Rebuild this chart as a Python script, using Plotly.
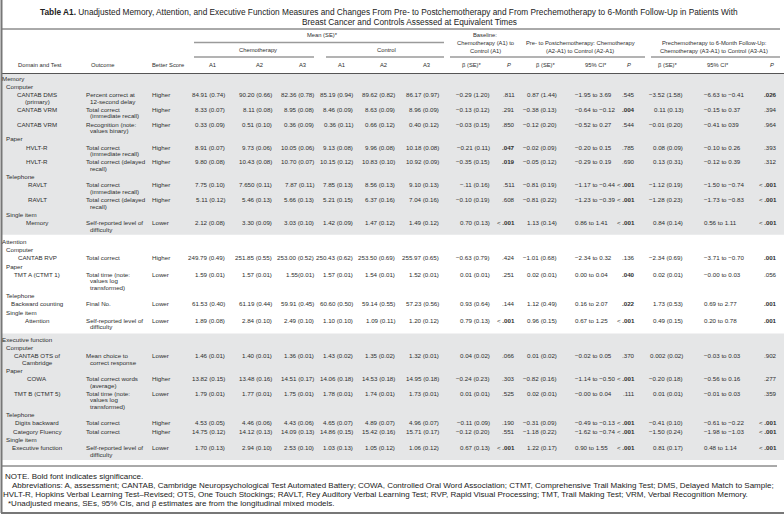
import plotly.graph_objects as go

W, H = 784, 523

# ---- table content -------------------------------------------------------
title_lines = [
    "<b>Table A1.</b> Unadjusted Memory, Attention, and Executive Function Measures and Changes From "
    "Pre- to Postchemotherapy and From Prechemotherapy to 6-Month Follow-Up in Patients With",
    "Breast Cancer and Controls Assessed at Equivalent Times",
]

domains = ["Memory", "Attention", "Executive function"]
row_domain = [0, 0, 0, 0, 0, 0, 0, 0, 1, 1, 1, 1, 2, 2, 2, 2, 2, 2]
row_mode = [
    "Computer", "Computer", "Computer", "Paper", "Paper", "Telephone", "Telephone", "Single item",
    "Computer", "Paper", "Telephone", "Single item",
    "Computer", "Paper", "Paper", "Telephone", "Telephone", "Single item",
]
tests = [
    "CANTAB DMS<br>(primary)", "CANTAB VRM", "CANTAB VRM", "HVLT-R", "HVLT-R", "RAVLT", "RAVLT", "Memory",
    "CANTAB RVP", "TMT A (CTMT 1)", "Backward counting", "Attention",
    "CANTAB OTS of<br>Cambridge", "COWA", "TMT B (CTMT 5)", "Digits backward", "Category Fluency",
    "Executive function",
]
outcomes = [
    "Percent correct at<br>12-second delay",
    "Total correct<br>(immediate recall)",
    "Recognition (note:<br>values binary)",
    "Total correct<br>(immediate recall)",
    "Total correct (delayed<br>recall)",
    "Total correct<br>(immediate recall)",
    "Total correct (delayed<br>recall)",
    "Self-reported level of<br>difficulty",
    "Total correct",
    "Total time (note:<br>values log<br>transformed)",
    "Final No.",
    "Self-reported level of<br>difficulty",
    "Mean choice to<br>correct response",
    "Total correct words<br>(average)",
    "Total time (note:<br>values log<br>transformed)",
    "Total correct",
    "Total correct",
    "Self-reported level of<br>difficulty",
]
better_score = [
    "Higher", "Higher", "Higher", "Higher", "Higher", "Higher", "Higher", "Lower",
    "Higher", "Lower", "Lower", "Lower",
    "Lower", "Higher", "Lower", "Higher", "Higher", "Lower",
]

chemo_a1 = ["84.91 (0.74)", "8.33 (0.07)", "0.33 (0.09)", "8.91 (0.07)", "9.80 (0.08)", "7.75 (0.10)",
            "5.11 (0.12)", "2.12 (0.08)", "249.79 (0.49)", "1.59 (0.01)", "61.53 (0.40)", "1.89 (0.08)",
            "1.46 (0.01)", "13.82 (0.15)", "1.79 (0.01)", "4.53 (0.05)", "14.75 (0.12)", "1.70 (0.13)"]
chemo_a2 = ["90.20 (0.66)", "8.11 (0.08)", "0.51 (0.10)", "9.73 (0.06)", "10.43 (0.08)", "7.650 (0.11)",
            "5.46 (0.13)", "3.30 (0.09)", "251.85 (0.55)", "1.57 (0.01)", "61.19 (0.44)", "2.84 (0.10)",
            "1.40 (0.01)", "13.48 (0.16)", "1.77 (0.01)", "4.46 (0.06)", "14.12 (0.13)", "2.94 (0.10)"]
chemo_a3 = ["82.36 (0.78)", "8.95 (0.08)", "0.36 (0.09)", "10.05 (0.06)", "10.70 (0.07)", "7.87 (0.11)",
            "5.66 (0.13)", "3.03 (0.10)", "253.00 (0.52)", "1.55(0.01)", "59.91 (0.45)", "2.49 (0.10)",
            "1.36 (0.01)", "14.51 (0.17)", "1.75 (0.01)", "4.43 (0.06)", "14.09 (0.13)", "2.53 (0.10)"]
control_a1 = ["85.19 (0.94)", "8.46 (0.09)", "0.36 (0.11)", "9.13 (0.08)", "10.15 (0.12)", "7.85 (0.13)",
              "5.21 (0.15)", "1.42 (0.09)", "250.43 (0.62)", "1.57 (0.01)", "60.60 (0.50)", "1.10 (0.10)",
              "1.43 (0.02)", "14.06 (0.18)", "1.78 (0.01)", "4.65 (0.07)", "14.86 (0.15)", "1.03 (0.13)"]
control_a2 = ["89.62 (0.82)", "8.63 (0.09)", "0.66 (0.12)", "9.96 (0.08)", "10.83 (0.10)", "8.56 (0.13)",
              "6.37 (0.16)", "1.47 (0.12)", "253.50 (0.69)", "1.54 (0.01)", "59.14 (0.55)", "1.09 (0.11)",
              "1.35 (0.02)", "14.53 (0.18)", "1.74 (0.01)", "4.89 (0.07)", "15.42 (0.16)", "1.05 (0.12)"]
control_a3 = ["86.17 (0.97)", "8.96 (0.09)", "0.40 (0.12)", "10.18 (0.08)", "10.92 (0.09)", "9.10 (0.13)",
              "7.04 (0.16)", "1.49 (0.12)", "255.97 (0.65)", "1.52 (0.01)", "57.23 (0.56)", "1.20 (0.12)",
              "1.32 (0.01)", "14.95 (0.18)", "1.73 (0.01)", "4.96 (0.07)", "15.71 (0.17)", "1.06 (0.12)"]

baseline_beta = ["−0.29 (1.20)", "−0.13 (0.12)", "−0.03 (0.15)", "−0.21 (0.11)", "−0.35 (0.15)", "−.11 (0.16)",
                 "−0.10 (0.19)", "0.70 (0.13)", "−0.63 (0.79)", "0.01 (0.01)", "0.93 (0.64)", "0.79 (0.13)",
                 "0.04 (0.02)", "−0.24 (0.23)", "0.01 (0.01)", "−0.11 (0.09)", "−0.12 (0.20)", "0.67 (0.13)"]
baseline_p = [".811", ".291", ".850", ".047", ".019", ".511", ".608", "< .001", ".424", ".251", ".144", "< .001",
              ".066", ".303", ".525", ".190", ".551", "< .001"]

prepost_beta = ["0.87 (1.44)", "−0.38 (0.13)", "−0.12 (0.20)", "−0.02 (0.09)", "−0.05 (0.12)", "−0.81 (0.19)",
                "−0.81 (0.22)", "1.13 (0.14)", "−1.01 (0.68)", "0.02 (0.01)", "1.12 (0.49)", "0.96 (0.15)",
                "0.01 (0.02)", "−0.82 (0.16)", "0.02 (0.01)", "−0.31 (0.09)", "−1.18 (0.22)", "1.22 (0.17)"]
prepost_ci = ["−1.95 to 3.69", "−0.64 to −0.12", "−0.52 to 0.27", "−0.20 to 0.15", "−0.29 to 0.19",
              "−1.17 to −0.44", "−1.23 to −0.39", "0.86 to 1.41", "−2.34 to 0.32", "0.00 to 0.04",
              "0.16 to 2.07", "0.67 to 1.25", "−0.02 to 0.05", "−1.14 to −0.50", "−0.00 to 0.04",
              "−0.49 to −0.13", "−1.62 to −0.74", "0.90 to 1.55"]
prepost_p = [".545", ".004", ".544", ".785", ".690", "< .001", "< .001", "< .001", ".136", ".040", ".022",
             "< .001", ".370", "< .001", ".111", "< .001", "< .001", "< .001"]

followup_beta = ["−3.52 (1.58)", "0.11 (0.13)", "−0.01 (0.20)", "0.08 (0.09)", "0.13 (0.31)", "−1.12 (0.19)",
                 "−1.28 (0.23)", "0.84 (0.14)", "−2.34 (0.69)", "0.02 (0.01)", "1.73 (0.53)", "0.49 (0.15)",
                 "0.002 (0.02)", "−0.20 (0.18)", "0.01 (0.01)", "−0.41 (0.10)", "−1.50 (0.24)", "0.81 (0.17)"]
followup_ci = ["−6.63 to −0.41", "−0.15 to 0.37", "−0.41 to 039", "−0.10 to 0.26", "−0.12 to 0.39",
               "−1.50 to −0.74", "−1.73 to −0.83", "0.56 to 1.11", "−3.71 to −0.70", "−0.00 to 0.03",
               "0.69 to 2.77", "0.20 to 0.78", "−0.03 to 0.03", "−0.56 to 0.16", "−0.01 to 0.03",
               "−0.61 to −0.22", "−1.98 to −1.03", "0.48 to 1.14"]
followup_p = [".026", ".394", ".964", ".393", ".312", "< .001", "< .001", "< .001", ".001", ".056", ".001",
              ".001", ".902", ".277", ".359", "< .001", "< .001", "< .001"]

notes = [
    "NOTE. Bold font indicates significance.",
    "Abbreviations: A, assessment; CANTAB, Cambridge Neuropsychological Test Automated Battery; COWA, Controlled "
    "Oral Word Association; CTMT, Comprehensive Trail Making Test; DMS, Delayed Match to Sample;",
    "HVLT-R, Hopkins Verbal Learning Test–Revised; OTS, One Touch Stockings; RAVLT, Rey Auditory Verbal Learning "
    "Test; RVP, Rapid Visual Processing; TMT, Trail Making Test; VRM, Verbal Recognition Memory.",
    "*Unadjusted means, SEs, 95% CIs, and β estimates are from the longitudinal mixed models.",
]

# ---- styling -------------------------------------------------------------
FONT = "Liberation Sans, Arial, sans-serif"
TXT = "#2e2e2e"
BAND = "#e5e6e7"
RULE = "#555555"
GROUP_RULE = "#9a9a9a"
BODY = 6.2
HEAD = 5.8
LINE = 6.6      # pitch of wrapped lines inside a cell
ROW = 8.2       # pitch from one row's last line to the next row
SECTION_GAP = 4

fig = go.Figure(go.Scatter(x=[], y=[], mode="markers", hoverinfo="skip"))
annotations = []
shapes = []


def text(x, y, s, anchor="left", size=BODY, color=TXT):
    annotations.append(dict(
        x=x, y=y, xref="x", yref="y", text=s, showarrow=False, xanchor=anchor, yanchor="middle",
        borderpad=0, borderwidth=0, font=dict(family=FONT, size=size, color=color),
    ))


def hline(x0, x1, y, color=RULE, width=1):
    shapes.append(dict(type="line", xref="x", yref="y", x0=x0, x1=x1, y0=y, y1=y,
                       line=dict(color=color, width=width)))


def p_text(p):
    sig = p.startswith("<") or float(p) < 0.05
    if not sig:
        return p
    if p.startswith("<"):
        return "< <b>" + p.lstrip("< ") + "</b>"
    return "<b>" + p + "</b>"


# ---- row layout ----------------------------------------------------------
y = 78.0
cur_dom, cur_mode = None, None
row_y = []
section_spans = []
for i in range(len(tests)):
    if row_domain[i] != cur_dom:
        if cur_dom is not None:
            section_spans[-1][1] = y - ROW + 5.5
            y += SECTION_GAP
        cur_dom, cur_mode = row_domain[i], None
        section_spans.append([y - 5.5, None])
        text(2, y, domains[cur_dom])
        y += ROW
    if row_mode[i] != cur_mode:
        cur_mode = row_mode[i]
        text(6, y, cur_mode)
        y += ROW
    n = max(len(tests[i].split("<br>")), len(outcomes[i].split("<br>")))
    row_y.append(y)
    y += (n - 1) * LINE + ROW
section_spans[-1][1] = y - ROW + 6

# gray bands behind Memory and Executive function
section_spans[0][0] = 73.5
for k in (0, 2):
    y0, y1 = section_spans[k]
    shapes.append(dict(type="rect", xref="x", yref="y", x0=2, x1=W, y0=y0, y1=y1,
                       fillcolor=BAND, line=dict(width=0), layer="below"))

# label cells
for i, y0 in enumerate(row_y):
    for k, part in enumerate(tests[i].split("<br>")):
        text(37, y0 + k * LINE, part, anchor="center")
    for k, part in enumerate(outcomes[i].split("<br>")):
        text(86 if k == 0 else 90, y0 + k * LINE, part)
    text(152, y0, better_score[i])

# numeric cells
value_columns = [
    (chemo_a1, 225, "right"), (chemo_a2, 272, "right"), (chemo_a3, 314, "right"),
    (control_a1, 353, "right"), (control_a2, 395, "right"), (control_a3, 439, "right"),
    (baseline_beta, 490, "right"), ([p_text(p) for p in baseline_p], 515, "right"),
    (prepost_beta, 557, "right"), (prepost_ci, 575, "left"), ([p_text(p) for p in prepost_p], 635, "right"),
    (followup_beta, 683, "right"), (followup_ci, 704, "left"), ([p_text(p) for p in followup_p], 777, "right"),
]
for values, x, anchor in value_columns:
    for v, y0 in zip(values, row_y):
        text(x, y0, v, anchor=anchor)

# ---- header --------------------------------------------------------------
text(40, 12, title_lines[0], size=8.3, color="#222")
text(409, 22, title_lines[1], anchor="center", size=8.3, color="#222")
hline(2, 780, 29)

text(322, 35, "Mean (SE)*", anchor="center", size=HEAD)
hline(194, 444, 42.5, GROUP_RULE, 1.5)
text(258, 50, "Chemotherapy", anchor="center", size=HEAD)
text(386, 50, "Control", anchor="center", size=HEAD)
hline(194, 314, 57, GROUP_RULE, 1.5)
hline(326, 444, 57, GROUP_RULE, 1.5)

for k, s in enumerate(["Baseline:", "Chemotherapy (A1) to", "Control (A1)"]):
    text(485, 35 + k * 8, s, anchor="center", size=HEAD)
for k, s in enumerate(["Pre- to Postchemotherapy: Chemotherapy", "(A2-A1) to Control (A2-A1)"]):
    text(580, 43 + k * 8, s, anchor="center", size=HEAD)
for k, s in enumerate(["Prechemotherapy to 6-Month Follow-Up:", "Chemotherapy (A3-A1) to Control (A3-A1)"]):
    text(714, 43 + k * 8, s, anchor="center", size=HEAD)
hline(450, 645, 57, GROUP_RULE, 1.5)
hline(651, 780, 57, GROUP_RULE, 1.5)

col_heads = [
    (40, "Domain and Test", "center"), (103, "Outcome", "center"), (152, "Better Score", "left"),
    (212, "A1", "center"), (259, "A2", "center"), (302, "A3", "center"),
    (341, "A1", "center"), (383, "A2", "center"), (426, "A3", "center"),
    (472, "β (SE)*", "center"), (509, "<i>P</i>", "center"),
    (546, "β (SE)*", "center"), (596, "95% CI*", "center"), (629, "<i>P</i>", "center"),
    (668, "β (SE)*", "center"), (718, "95% CI*", "center"), (772, "<i>P</i>", "center"),
]
for x, s, anchor in col_heads:
    text(x, 65, s, anchor=anchor, size=HEAD)
hline(2, W, 73.5)

# ---- footer --------------------------------------------------------------
hline(2, 777, 466)
for k, (x, s) in enumerate(zip([5, 12, 3, 8], notes)):
    text(x, 476 + k * 9, s, size=8.0, color="#222")

# frame: left edge and bottom edge
shapes.append(dict(type="line", xref="x", yref="y", x0=1.5, x1=1.5, y0=0, y1=513,
                   line=dict(color="#777", width=2)))
hline(1, W, 513, "#777", 2)

fig.update_xaxes(range=[0, W], visible=False, fixedrange=True)
fig.update_yaxes(range=[H, 0], visible=False, fixedrange=True)
fig.update_layout(
    width=W, height=H, margin=dict(l=0, r=0, t=0, b=0),
    paper_bgcolor="white", plot_bgcolor="white", showlegend=False,
    annotations=annotations, shapes=shapes,
)
fig.write_html("out.html", config={"displayModeBar": False},
               post_script="document.body.style.margin='0';document.body.style.overflow='hidden';")
